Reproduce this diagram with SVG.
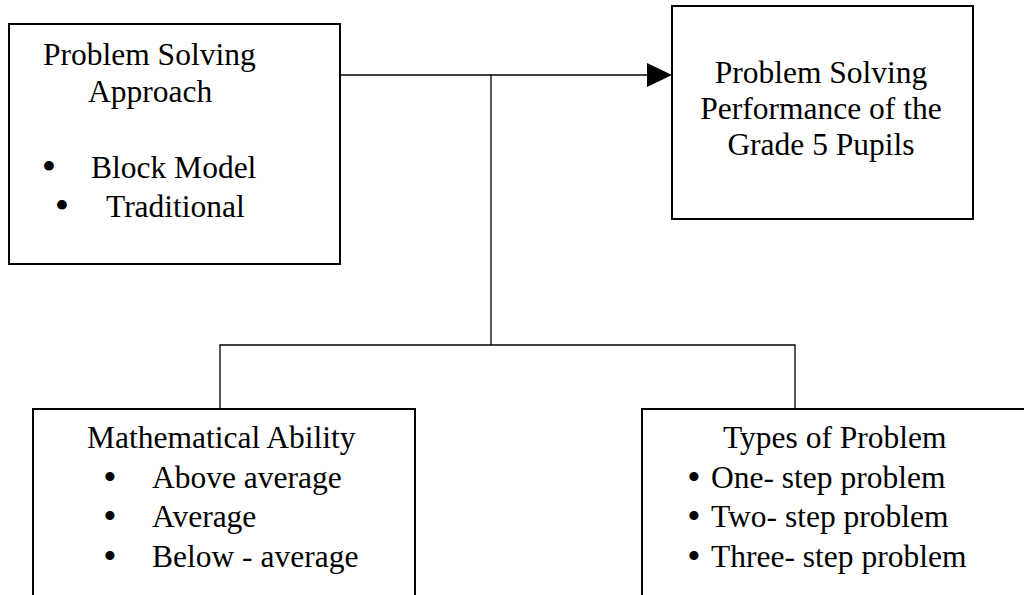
<svg xmlns="http://www.w3.org/2000/svg" width="1024" height="595" viewBox="0 0 1024 595">
<style>
.box{fill:#fff;stroke:#000;stroke-width:2}
.t{font-family:"Liberation Serif","Times New Roman",serif;font-size:31.5px;fill:#000}
.c{text-anchor:middle}
.b{font-size:41px;text-anchor:middle}
.b2{font-size:38px;text-anchor:middle}
.ln{stroke:#000;stroke-width:1.3;fill:none}
</style>
<rect width="1024" height="595" fill="#fff"/>
<g id="connectors">
<polyline class="ln" points="340,75 648,75"/>
<polygon points="647,63 672,75 647,87" fill="#000"/>
<polyline class="ln" points="491,75 491,345"/>
<polyline class="ln" points="220,409 220,345 795,345 795,409"/>
</g>
<g id="approach">
<rect class="box" x="9" y="24" width="331" height="240"/>
<text class="t" x="43" y="65">Problem Solving</text>
<text class="t" x="88" y="102">Approach</text>
<text class="t" y="178"><tspan class="b" x="49" dy="2">•</tspan><tspan x="91" dy="-2">Block Model</tspan></text>
<text class="t" y="217"><tspan class="b" x="62" dy="2">•</tspan><tspan x="106" dy="-2">Traditional</tspan></text>
</g>
<g id="performance">
<rect class="box" x="672" y="6" width="301" height="213"/>
<text class="t c" x="821" y="83">Problem Solving</text>
<text class="t c" x="821" y="119">Performance of the</text>
<text class="t c" x="821" y="155">Grade 5 Pupils</text>
</g>
<g id="ability">
<rect class="box" x="33" y="409" width="382" height="200"/>
<text class="t" x="87" y="448">Mathematical Ability</text>
<text class="t" y="488"><tspan class="b2" x="110" dy="2">•</tspan><tspan x="152" dy="-2">Above average</tspan></text>
<text class="t" y="527"><tspan class="b2" x="110" dy="2">•</tspan><tspan x="152" dy="-2">Average</tspan></text>
<text class="t" y="567"><tspan class="b2" x="110" dy="2">•</tspan><tspan x="152" dy="-2">Below - average</tspan></text>
</g>
<g id="types">
<rect class="box" x="642" y="409" width="400" height="200"/>
<text class="t" x="723" y="448">Types of Problem</text>
<text class="t" y="488"><tspan class="b2" x="694" dy="2">•</tspan><tspan x="711" dy="-2">One- step problem</tspan></text>
<text class="t" y="527"><tspan class="b2" x="694" dy="2">•</tspan><tspan x="711" dy="-2">Two- step problem</tspan></text>
<text class="t" y="567"><tspan class="b2" x="694" dy="2">•</tspan><tspan x="711" dy="-2">Three- step problem</tspan></text>
</g>
</svg>
